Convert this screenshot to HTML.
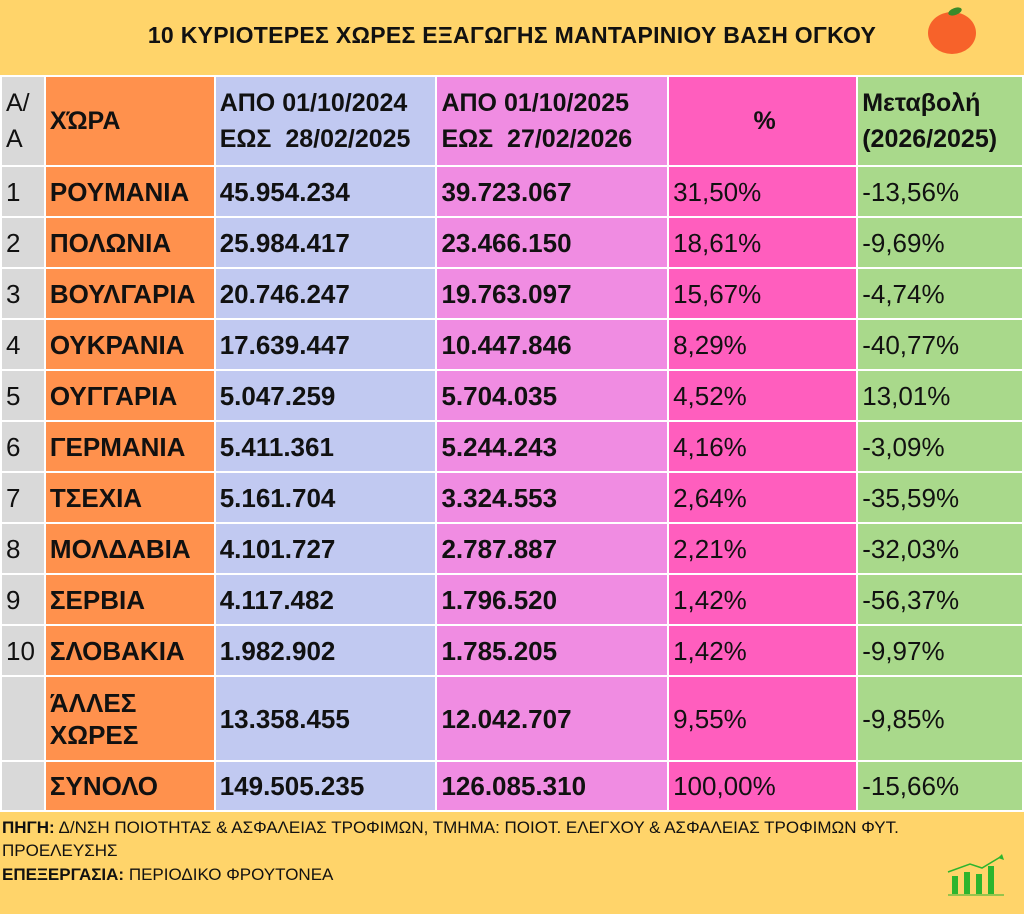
<!DOCTYPE html>
<html><head><meta charset="utf-8"><style>
body{margin:0;width:1024px;height:914px;background:#FFD46A;font-family:"Liberation Sans",sans-serif;position:relative;overflow:hidden;color:#111}
.t{position:absolute;top:22px;left:0;width:1024px;text-align:center;font-weight:bold;font-size:23px;letter-spacing:0.3px}
table{position:absolute;left:0;top:75px;border-collapse:collapse;table-layout:fixed}
td{border:2px solid #fff;padding:0 0 0 4px;font-size:26px;vertical-align:middle;line-height:32px;white-space:nowrap;overflow:hidden}
.c0{background:#D9D9D9}.c1{background:#FF914D;font-weight:bold}.c2{background:#C1C9F1;font-weight:bold}.c3{background:#F08CE2;font-weight:bold}.c4{background:#FF5EBE}.c5{background:#A9D98B}
tr.h td{font-weight:bold;font-size:25px;line-height:36px}
tr.h td.c0{font-weight:normal}
tr.r td{height:49px}
.f{position:absolute;left:2px;font-size:17px}
</style></head><body>
<div class="t">10 ΚΥΡΙΟΤΕΡΕΣ ΧΩΡΕΣ ΕΞΑΓΩΓΗΣ ΜΑΝΤΑΡΙΝΙΟΥ ΒΑΣΗ ΟΓΚΟΥ</div>
<div style="position:absolute;left:928px;top:12px;width:48px;height:42px;border-radius:50%;background:#F7622A"></div>
<div style="position:absolute;left:948px;top:8px;width:14px;height:7px;border-radius:50%;background:#3a8a2a;transform:rotate(-20deg)"></div>
<table>
<colgroup><col style="width:44px"><col style="width:170px"><col style="width:222px"><col style="width:232px"><col style="width:190px"><col style="width:166px"></colgroup>
<tr class="h" style="height:90px"><td class="c0">Α/<br>Α</td><td class="c1">ΧΏΡΑ</td><td class="c2">ΑΠΟ 01/10/2024<br>ΕΩΣ&nbsp; 28/02/2025</td><td class="c3">ΑΠΟ 01/10/2025<br>ΕΩΣ&nbsp; 27/02/2026</td><td class="c4" style="text-align:center">%</td><td class="c5">Μεταβολή<br>(2026/2025)</td></tr>
<tr class="r"><td class="c0">1</td><td class="c1">ΡΟΥΜΑΝΙΑ</td><td class="c2">45.954.234</td><td class="c3">39.723.067</td><td class="c4">31,50%</td><td class="c5">-13,56%</td></tr>
<tr class="r"><td class="c0">2</td><td class="c1">ΠΟΛΩΝΙΑ</td><td class="c2">25.984.417</td><td class="c3">23.466.150</td><td class="c4">18,61%</td><td class="c5">-9,69%</td></tr>
<tr class="r"><td class="c0">3</td><td class="c1">ΒΟΥΛΓΑΡΙΑ</td><td class="c2">20.746.247</td><td class="c3">19.763.097</td><td class="c4">15,67%</td><td class="c5">-4,74%</td></tr>
<tr class="r"><td class="c0">4</td><td class="c1">ΟΥΚΡΑΝΙΑ</td><td class="c2">17.639.447</td><td class="c3">10.447.846</td><td class="c4">8,29%</td><td class="c5">-40,77%</td></tr>
<tr class="r"><td class="c0">5</td><td class="c1">ΟΥΓΓΑΡΙΑ</td><td class="c2">5.047.259</td><td class="c3">5.704.035</td><td class="c4">4,52%</td><td class="c5">13,01%</td></tr>
<tr class="r"><td class="c0">6</td><td class="c1">ΓΕΡΜΑΝΙΑ</td><td class="c2">5.411.361</td><td class="c3">5.244.243</td><td class="c4">4,16%</td><td class="c5">-3,09%</td></tr>
<tr class="r"><td class="c0">7</td><td class="c1">ΤΣΕΧΙΑ</td><td class="c2">5.161.704</td><td class="c3">3.324.553</td><td class="c4">2,64%</td><td class="c5">-35,59%</td></tr>
<tr class="r"><td class="c0">8</td><td class="c1">ΜΟΛΔΑΒΙΑ</td><td class="c2">4.101.727</td><td class="c3">2.787.887</td><td class="c4">2,21%</td><td class="c5">-32,03%</td></tr>
<tr class="r"><td class="c0">9</td><td class="c1">ΣΕΡΒΙΑ</td><td class="c2">4.117.482</td><td class="c3">1.796.520</td><td class="c4">1,42%</td><td class="c5">-56,37%</td></tr>
<tr class="r"><td class="c0">10</td><td class="c1">ΣΛΟΒΑΚΙΑ</td><td class="c2">1.982.902</td><td class="c3">1.785.205</td><td class="c4">1,42%</td><td class="c5">-9,97%</td></tr>
<tr style="height:85px"><td class="c0"></td><td class="c1">ΆΛΛΕΣ<br>ΧΩΡΕΣ</td><td class="c2">13.358.455</td><td class="c3">12.042.707</td><td class="c4">9,55%</td><td class="c5">-9,85%</td></tr>
<tr style="height:50px"><td class="c0"></td><td class="c1">ΣΥΝΟΛΟ</td><td class="c2">149.505.235</td><td class="c3">126.085.310</td><td class="c4">100,00%</td><td class="c5">-15,66%</td></tr>
</table>
<div class="f" style="top:818px"><b>ΠΗΓΗ:</b> Δ/ΝΣΗ ΠΟΙΟΤΗΤΑΣ &amp; ΑΣΦΑΛΕΙΑΣ ΤΡΟΦΙΜΩΝ, ΤΜΗΜΑ: ΠΟΙΟΤ. ΕΛΕΓΧΟΥ &amp; ΑΣΦΑΛΕΙΑΣ ΤΡΟΦΙΜΩΝ ΦΥΤ.</div>
<div class="f" style="top:841px">ΠΡΟΕΛΕΥΣΗΣ</div>
<div class="f" style="top:865px"><b>ΕΠΕΞΕΡΓΑΣΙΑ:</b> ΠΕΡΙΟΔΙΚΟ ΦΡΟΥΤΟΝΕΑ</div>
<svg style="position:absolute;left:944px;top:854px" width="64" height="44"><g fill="#2DB52D"><rect x="8" y="22" width="6" height="18"/><rect x="20" y="18" width="6" height="22"/><rect x="32" y="20" width="6" height="20"/><rect x="44" y="12" width="6" height="28"/></g><polyline points="4,18 26,10 38,14 58,2" stroke="#2DB52D" stroke-width="1.5" fill="none"/><polygon points="58,0 60,6 54,4" fill="#2DB52D"/><line x1="4" y1="41" x2="60" y2="41" stroke="#2DB52D"/></svg>
</body></html>
